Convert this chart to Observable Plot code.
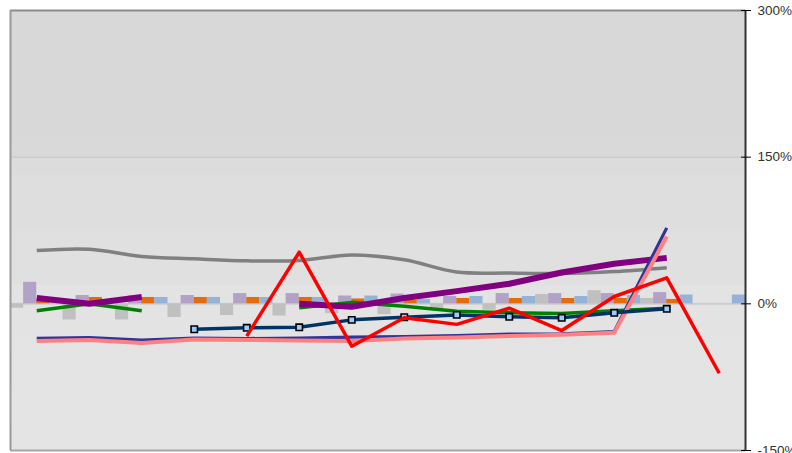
<!DOCTYPE html>
<html><head><meta charset="utf-8">
<script src="https://cdn.jsdelivr.net/npm/d3@7"></script>
<script src="https://cdn.jsdelivr.net/npm/@observablehq/plot@0.6"></script>
<style>body{margin:0;background:#fff;} svg{display:block}</style>
</head><body><div id="chart"></div>
<script>
const categories = ["1","2","3","4","5","6","7","8","9","10","11","12","13","14"];
const yTicks = [300, 150, 0, -150];

// bar series (4 per category)
const barGray   = [-4.5,-16.5,-16.5,-14,-12,-12.5,-10,-11,-5,-6.5,9.5,13.5,5.5,null];
const barLilac  = [22,8.5,8,8.5,10.5,10.5,8,10,7.5,10.5,10.5,10.5,11.5,null];
const barOrange = [4,6.5,6.5,6.5,6.5,6.5,5,3.5,5.5,5.5,5.5,5.5,4.5,null];
const barBlue   = [3,4.5,6.5,6.5,6.5,6.5,8,4.5,7.5,7.5,7.5,8.5,9,9];

// line series
const lineGray     = [54.5,55.8,48.4,46,44,44.3,50,45,32.5,31.5,31,33,37,null];
const linePurple   = [6,0,7,null,null,0,-3,6,13,20.5,32,41,47,null];
const lineGreen    = [-7,0,-7,null,null,-4,1.5,-2.5,-7.5,-9,-10,-7,-4.5,null];
const lineDarkBlue = [-35.2,-34.5,-37,-35,-35.5,-35,-34,-33.5,-32.5,-31,-30.7,-28.3,77.7,null];
const linePink     = [-38,-37,-40,-36.5,-37,-37.5,-38,-35.5,-34.5,-33,-31.5,-29.5,68.8,null];
const lineNavy     = [null,null,null,-26,-24.5,-24,-16.4,-13.7,-11.3,-13.3,-14.3,-9.2,-5.1,null];
const lineRed      = [null,null,null,null,-33,52.8,-43.3,-14.3,-21,-4.5,-27.3,7.5,26.6,-71];

const barSets = [
  {vals: barGray, color: "#c0c0c0"},
  {vals: barLilac, color: "#b3a2c7"},
  {vals: barOrange, color: "#e46c0a"},
  {vals: barBlue, color: "#95b3d7"}
];
const nb = barSets.length;
const barMarks = barSets.map((s, j) => {
  const rows = s.vals.map((v, i) => ({i, v})).filter(d => d.v != null);
  return Plot.rect(rows, {x1: d => d.i + j / nb, x2: d => d.i + (j + 1) / nb, y1: 0, y2: "v", fill: s.color, inset: 0});
});

const rows = vals => vals.map((v, i) => ({x: i + 0.5, y: v == null ? NaN : v}));
const line = (vals, color, w, curve = "linear") =>
  Plot.line(rows(vals), {x: "x", y: "y", stroke: color, strokeWidth: w, curve, strokeLinejoin: "round", strokeLinecap: "butt"});

const chart = Plot.plot({
  width: 792, height: 453,
  marginLeft: 10, marginRight: 47, marginTop: 10, marginBottom: 3,
  x: {domain: [0, categories.length], axis: null},
  y: {domain: [-150, 300], axis: null},
  style: {fontFamily: "'Liberation Sans', Arial, sans-serif", background: "white", overflow: "visible"},
  marks: [
    Plot.frame({fill: "url(#bgGrad)", stroke: null}),
    Plot.ruleY([150], {stroke: "#c4c4c4", strokeWidth: 1}),
    Plot.ruleY([0], {stroke: "#cdcdcd", strokeWidth: 2}),
    ...barMarks,
    line(lineGray, "#808080", 3.5, "catmull-rom"),
    line(lineGreen, "#008000", 3.5),
    line(linePurple, "#800080", 6),
    line(lineDarkBlue, "#333399", 3.2),
    line(linePink, "#ff8080", 4),
    line(lineNavy, "#003366", 3.5),
    Plot.dot(rows(lineNavy).filter(d => !isNaN(d.y)), {x: "x", y: "y", symbol: "square", r: 3.6, fill: "#99ccff", stroke: "#000", strokeWidth: 1.6}),
    line(lineRed, "#ff0000", 3.5),
    Plot.ruleY([300], {stroke: "#8a8a8a", strokeWidth: 2}),
    Plot.ruleY([-150], {stroke: "#a6a6a6", strokeWidth: 2}),
    Plot.ruleX([0], {stroke: "#999999", strokeWidth: 2}),
    Plot.ruleX([categories.length], {stroke: "#333", strokeWidth: 2}),
    Plot.axisY({anchor: "right", ticks: yTicks, tickFormat: d => d + "%", tickSize: 10, dx: -5, tickPadding: 7, fontSize: 13.5, color: "#333", stroke: "#000"})
  ]
});
const ns = "http://www.w3.org/2000/svg";
const defs = document.createElementNS(ns, "defs");
defs.innerHTML = '<linearGradient id="bgGrad" x1="0" y1="0" x2="0" y2="1">' +
  '<stop offset="0" stop-color="#d8d8d8"/><stop offset="0.334" stop-color="#d9d9d9"/>' +
  '<stop offset="0.334" stop-color="#dcdcdc"/><stop offset="0.375" stop-color="#dcdcdc"/>' +
  '<stop offset="0.375" stop-color="#dedede"/><stop offset="0.5" stop-color="#dedede"/>' +
  '<stop offset="0.5" stop-color="#e0e0e0"/><stop offset="0.625" stop-color="#e0e0e0"/>' +
  '<stop offset="0.625" stop-color="#e3e3e3"/><stop offset="1" stop-color="#e4e4e4"/></linearGradient>';
chart.insertBefore(defs, chart.firstChild);
document.getElementById("chart").appendChild(chart);
</script>
</body></html>
